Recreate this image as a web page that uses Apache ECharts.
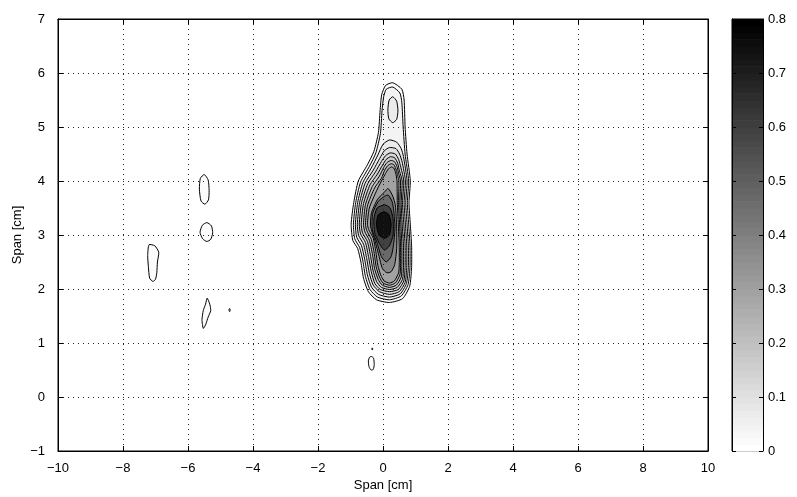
<!DOCTYPE html>
<html><head><meta charset="utf-8">
<script src="https://cdn.jsdelivr.net/npm/echarts@6/dist/echarts.min.js"></script>
<style>html,body{margin:0;padding:0;background:#fff}#chart{width:797px;height:497px}</style>
</head><body><div id="chart"></div>
<script>
// Contour levels, in the units of the colour bar
const levels = [0.02, 0.04, 0.07, 0.10, 0.13, 0.17, 0.21, 0.25, 0.30, 0.38, 0.47, 0.60, 0.74];

// Small isolated contours at the lowest level: [level index, outline (x, y) in cm]
const islands = [
  [0, [[-5.5,4.12],[-5.38,4.02],[-5.35,3.82],[-5.37,3.65],[-5.48,3.57],[-5.6,3.63],[-5.65,3.85],[-5.62,4.05]]],
  [0, [[-5.42,3.23],[-5.28,3.17],[-5.24,3.04],[-5.3,2.92],[-5.42,2.88],[-5.55,2.93],[-5.63,3.05],[-5.56,3.18]]],
  [0, [[-7.2,2.82],[-7.02,2.8],[-6.9,2.68],[-6.94,2.5],[-6.96,2.3],[-7.0,2.18],[-7.08,2.14],[-7.18,2.2],[-7.22,2.42],[-7.24,2.62]]],
  [0, [[-5.41,1.83],[-5.33,1.72],[-5.3,1.6],[-5.38,1.48],[-5.45,1.35],[-5.53,1.27],[-5.57,1.43],[-5.53,1.6],[-5.46,1.72]]],
  [0, [[-4.72,1.64],[-4.7,1.61],[-4.72,1.58],[-4.74,1.61]]],
  [0, [[-0.35,0.75],[-0.29,0.72],[-0.27,0.6],[-0.3,0.51],[-0.37,0.5],[-0.43,0.56],[-0.45,0.67],[-0.41,0.74]]],
  [0, [[-0.33,0.91],[-0.315,0.89],[-0.33,0.87],[-0.345,0.89]]]
];

// Nested contours of the main spot, from the outermost level inwards
const mainRings = [
  [0, [[0.3,5.82],[0.58,5.7],[0.65,5.5],[0.68,5.0],[0.74,4.5],[0.84,4.0],[0.8,3.6],[0.84,3.2],[0.88,2.8],[0.88,2.4],[0.82,2.05],[0.6,1.82],[0.2,1.75],[-0.2,1.8],[-0.45,1.95],[-0.6,2.2],[-0.68,2.5],[-0.78,2.75],[-0.93,2.9],[-0.98,3.2],[-0.9,3.6],[-0.76,4.0],[-0.48,4.3],[-0.28,4.55],[-0.14,4.9],[-0.09,5.3],[-0.04,5.6],[0.08,5.77]]],
  [1, [[0.3,5.74],[0.52,5.63],[0.58,5.45],[0.62,5.0],[0.68,4.5],[0.79,4.0],[0.75,3.6],[0.79,3.2],[0.83,2.8],[0.83,2.4],[0.77,2.08],[0.56,1.87],[0.2,1.8],[-0.17,1.85],[-0.4,1.99],[-0.54,2.23],[-0.62,2.52],[-0.72,2.77],[-0.87,2.93],[-0.91,3.2],[-0.84,3.6],[-0.69,3.98],[-0.42,4.27],[-0.22,4.52],[-0.08,4.88],[-0.03,5.3],[0.02,5.56],[0.1,5.7]]],
  [2, [[0.42,4.72],[0.56,4.6],[0.63,4.45],[0.74,4.0],[0.7,3.6],[0.74,3.2],[0.78,2.8],[0.78,2.4],[0.72,2.1],[0.53,1.91],[0.2,1.85],[-0.14,1.9],[-0.35,2.03],[-0.48,2.26],[-0.56,2.54],[-0.66,2.8],[-0.81,2.96],[-0.85,3.2],[-0.78,3.6],[-0.62,3.97],[-0.36,4.24],[-0.16,4.48],[0.0,4.68],[0.2,4.76]]],
  [2, [[0.3,5.56],[0.42,5.48],[0.46,5.3],[0.42,5.14],[0.3,5.08],[0.18,5.15],[0.15,5.32],[0.19,5.5]]],
  [3, [[0.4,4.6],[0.51,4.5],[0.59,4.35],[0.69,4.0],[0.65,3.6],[0.69,3.2],[0.73,2.8],[0.73,2.4],[0.68,2.12],[0.5,1.95],[0.2,1.9],[-0.11,1.95],[-0.3,2.07],[-0.42,2.29],[-0.5,2.56],[-0.6,2.83],[-0.75,2.99],[-0.79,3.2],[-0.72,3.6],[-0.55,3.96],[-0.3,4.2],[-0.1,4.42],[0.04,4.56],[0.2,4.62]]],
  [4, [[0.38,4.5],[0.48,4.4],[0.55,4.25],[0.64,4.0],[0.6,3.6],[0.64,3.2],[0.68,2.8],[0.68,2.4],[0.64,2.15],[0.47,1.99],[0.2,1.95],[-0.08,1.99],[-0.25,2.1],[-0.36,2.32],[-0.44,2.58],[-0.54,2.86],[-0.69,3.02],[-0.73,3.2],[-0.66,3.6],[-0.47,3.95],[-0.23,4.17],[-0.05,4.36],[0.08,4.47],[0.22,4.52]]],
  [5, [[0.36,4.43],[0.45,4.33],[0.51,4.18],[0.59,4.0],[0.56,3.6],[0.59,3.2],[0.63,2.8],[0.63,2.4],[0.6,2.18],[0.44,2.03],[0.2,1.99],[-0.05,2.03],[-0.2,2.14],[-0.31,2.35],[-0.38,2.6],[-0.48,2.88],[-0.63,3.04],[-0.67,3.2],[-0.6,3.58],[-0.4,3.93],[-0.17,4.13],[-0.01,4.3],[0.1,4.4],[0.23,4.45]]],
  [6, [[0.35,4.36],[0.43,4.27],[0.48,4.14],[0.54,4.0],[0.52,3.6],[0.55,3.2],[0.58,2.8],[0.58,2.42],[0.56,2.22],[0.41,2.07],[0.2,2.03],[-0.02,2.07],[-0.15,2.18],[-0.26,2.38],[-0.32,2.63],[-0.42,2.9],[-0.56,3.06],[-0.6,3.2],[-0.54,3.56],[-0.33,3.9],[-0.11,4.09],[0.02,4.25],[0.12,4.34],[0.24,4.38]]],
  [7, [[0.34,4.3],[0.41,4.2],[0.45,4.1],[0.49,4.0],[0.48,3.6],[0.51,3.2],[0.54,2.8],[0.54,2.44],[0.52,2.26],[0.38,2.11],[0.2,2.07],[0.0,2.11],[-0.11,2.22],[-0.21,2.41],[-0.27,2.66],[-0.36,2.92],[-0.5,3.08],[-0.54,3.2],[-0.48,3.54],[-0.26,3.87],[-0.05,4.05],[0.05,4.2],[0.14,4.28],[0.25,4.32]]],
  [8, [[0.33,4.24],[0.39,4.15],[0.43,4.0],[0.44,3.6],[0.47,3.2],[0.5,2.8],[0.5,2.46],[0.48,2.3],[0.35,2.15],[0.2,2.11],[0.03,2.15],[-0.07,2.26],[-0.16,2.44],[-0.22,2.69],[-0.3,2.94],[-0.44,3.1],[-0.48,3.2],[-0.42,3.5],[-0.19,3.83],[-0.03,4.02],[0.08,4.14],[0.16,4.22],[0.26,4.26]]],
  [9, [[0.16,3.86],[0.3,3.72],[0.38,3.55],[0.42,3.15],[0.42,2.75],[0.36,2.45],[0.25,2.32],[0.12,2.3],[-0.02,2.38],[-0.12,2.6],[-0.25,2.9],[-0.38,3.15],[-0.36,3.4],[-0.18,3.65],[0.05,3.8]]],
  [10, [[0.16,3.74],[0.28,3.62],[0.33,3.45],[0.37,3.15],[0.33,2.85],[0.25,2.6],[0.1,2.5],[-0.05,2.6],[-0.18,2.85],[-0.33,3.1],[-0.32,3.4],[-0.15,3.62],[0.05,3.72]]],
  [11, [[0.05,3.56],[0.22,3.5],[0.31,3.3],[0.31,3.0],[0.2,2.8],[0.04,2.72],[-0.12,2.85],[-0.26,3.05],[-0.28,3.3],[-0.18,3.5]]],
  [12, [[0.03,3.43],[0.18,3.38],[0.25,3.2],[0.2,3.0],[0.05,2.94],[-0.12,3.0],[-0.2,3.18],[-0.15,3.37]]]
];

// Colour bar range and tick step
const cbarMin = 0, cbarMax = 0.8, cbarStep = 0.1;
// Number of entries in the grey colour map
const mapSize = 64;

const contours = islands.concat(mainRings);

function grayAt(v) {
  const t = Math.max(0, Math.min(1, (v - cbarMin) / (cbarMax - cbarMin)));
  const idx = Math.min(mapSize - 1, Math.floor(t * mapSize));
  const g = Math.round(255 * (1 - idx / (mapSize - 1)));
  return 'rgb(' + g + ',' + g + ',' + g + ')';
}

const bands = [];
for (let i = 0; i < mapSize; i++) {
  bands.push([cbarMin + i * (cbarMax - cbarMin) / mapSize, cbarMin + (i + 1) * (cbarMax - cbarMin) / mapSize]);
}

const font = 'Liberation Sans, Arial, Helvetica, sans-serif';
const minus = v => String(v).replace('-', '\u2212');
const tickLabel = { color: '#000', fontFamily: font, fontSize: 13 };
const dotted = { show: true, lineStyle: { color: '#222', width: 1, type: [1, 4] } };
const frameLine = { show: true, onZero: false, lineStyle: { color: '#000' } };
const inTick = len => ({ show: true, inside: true, length: len, lineStyle: { color: '#000' } });

const chart = echarts.init(document.getElementById('chart'), null, { renderer: 'canvas' });
chart.setOption({
  animation: false,
  backgroundColor: '#fff',
  grid: [
    { left: 58, right: 89, top: 19, bottom: 46, show: true, borderColor: '#000', borderWidth: 1,
      backgroundColor: 'transparent', containLabel: false, outerBoundsMode: 'none' },
    { left: 732, width: 31, top: 19, bottom: 46, show: true, borderColor: '#000', borderWidth: 1,
      containLabel: false, outerBoundsMode: 'none' }
  ],
  xAxis: [
    { gridIndex: 0, type: 'value', min: -10, max: 10, interval: 2, z: 5,
      name: 'Span [cm]', nameLocation: 'middle', nameGap: 28, nameMoveOverlap: false,
      nameTextStyle: { color: '#000', fontFamily: font, fontSize: 13 },
      axisLine: frameLine, axisTick: inTick(5),
      axisLabel: Object.assign({ margin: 11, formatter: minus }, tickLabel),
      splitLine: dotted },
    { gridIndex: 0, type: 'value', min: -10, max: 10, interval: 2, position: 'top', z: 5,
      axisLine: frameLine, axisTick: inTick(5),
      axisLabel: { show: false }, splitLine: { show: false } },
    { gridIndex: 1, type: 'value', min: 0, max: 1, show: false }
  ],
  yAxis: [
    { gridIndex: 0, type: 'value', min: -1, max: 7, interval: 1, z: 5,
      name: 'Span [cm]', nameLocation: 'middle', nameGap: 34, nameMoveOverlap: false,
      nameTextStyle: { color: '#000', fontFamily: font, fontSize: 13 },
      axisLine: frameLine, axisTick: inTick(5),
      axisLabel: Object.assign({ margin: 13, formatter: minus }, tickLabel),
      splitLine: dotted },
    { gridIndex: 0, type: 'value', min: -1, max: 7, interval: 1, position: 'right', z: 5,
      axisLine: frameLine, axisTick: inTick(5),
      axisLabel: { show: false }, splitLine: { show: false } },
    { gridIndex: 1, type: 'value', min: cbarMin, max: cbarMax, interval: cbarStep, position: 'right', z: 5,
      axisLine: frameLine, axisTick: inTick(4),
      axisLabel: Object.assign({ margin: 5, formatter: v => String(Math.round(v * 10) / 10) }, tickLabel),
      splitLine: { show: false } },
    { gridIndex: 1, type: 'value', min: cbarMin, max: cbarMax, interval: cbarStep, position: 'left', z: 5,
      axisLine: frameLine, axisTick: inTick(4),
      axisLabel: { show: false }, splitLine: { show: false } }
  ],
  series: [
    {
      type: 'custom', xAxisIndex: 0, yAxisIndex: 0, z: 2, clip: true,
      data: contours.map(c => [c[1][0][0], c[1][0][1]]),
      renderItem: function (params, api) {
        const c = contours[params.dataIndex];
        const pts = c[1].map(p => api.coord(p));
        return {
          type: 'polygon',
          shape: { points: pts, smooth: 0.2 },
          style: { fill: grayAt(levels[c[0]]), stroke: '#000', lineWidth: 1 }
        };
      }
    },
    {
      type: 'custom', xAxisIndex: 2, yAxisIndex: 2, z: 2,
      data: bands,
      renderItem: function (params, api) {
        const b = bands[params.dataIndex];
        const p0 = api.coord([0, b[0]]);
        const p1 = api.coord([1, b[1]]);
        return {
          type: 'rect',
          shape: { x: p0[0], y: p1[1], width: p1[0] - p0[0], height: p0[1] - p1[1] + 0.6 },
          style: { fill: grayAt((b[0] + b[1]) / 2) }
        };
      }
    }
  ]
});
</script>
</body></html>
